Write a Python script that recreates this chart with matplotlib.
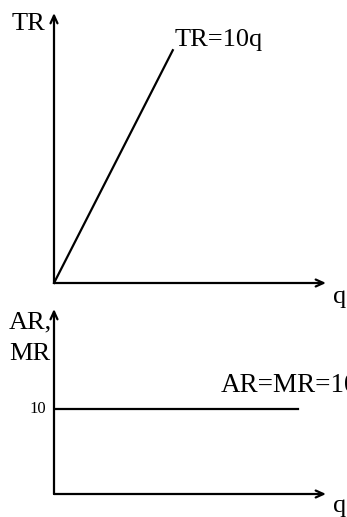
import matplotlib
matplotlib.use("Agg")
import matplotlib.pyplot as plt
import numpy as np

# data
q_tr = [0, 12]
tr_price = 10
ar_level = 10
q_ar = [0, 24.6]
tick_vals = [10]
tick_labels = ["10"]

W, H = 347, 517
fig = plt.figure(figsize=(W/100, H/100), dpi=100)
plt.rcParams['font.family'] = ['Liberation Serif', 'DejaVu Serif']

def px_axes(left, right, top, bottom):
    return fig.add_axes([left/W, 1-bottom/H, (right-left)/W, (bottom-top)/H])

def draw_axes(ax, xend, yend):
    for s in ax.spines.values():
        s.set_visible(False)
    ax.set_xticks([]); ax.set_yticks([])
    ax.patch.set_alpha(0)
    arrow = dict(arrowstyle='->,head_length=0.55,head_width=0.25', color='black', lw=1.6,
                 shrinkA=0, shrinkB=0)
    ax.annotate('', xy=(xend, 0), xytext=(0, 0), xycoords='axes fraction', arrowprops=arrow, annotation_clip=False)
    ax.annotate('', xy=(0, yend), xytext=(0, 0), xycoords='axes fraction', arrowprops=arrow, annotation_clip=False)

# top panel
ax1 = px_axes(54, 330, 12, 283)
ax1.set_xlim(0, 276/9.9)
ax1.set_ylim(0, 271/1.94)
draw_axes(ax1, (326-54)/276, (283-13)/271)
q = np.array(q_tr)
ax1.plot(q, tr_price*q, color='black', lw=1.6, clip_on=False)
fig.text(12/W, 1-30/H, "TR", fontsize=19)
fig.text(175/W, 1-46/H, "TR=10q", fontsize=19)
fig.text(333/W, 1-303/H, "q", fontsize=19)

# bottom panel
ax2 = px_axes(54, 330, 312, 494)
ax2.set_xlim(0, 276/9.9)
ax2.set_ylim(0, 182/8.5)
draw_axes(ax2, (326-54)/276, (494-309)/182)
ax2.plot(q_ar, [ar_level]*len(q_ar), color='black', lw=1.6)
for v, lab in zip(tick_vals, tick_labels):
    ax2.text(-0.03, v, lab, transform=ax2.get_yaxis_transform(), ha='right', va='center', fontsize=12)
fig.text(9/W, 1-328/H, "AR,", fontsize=19)
fig.text(9/W, 1-360/H, "MR", fontsize=19)
fig.text(221/W, 1-392/H, "AR=MR=10", fontsize=19.5)
fig.text(333/W, 1-512/H, "q", fontsize=19)

fig.savefig("out.png", dpi=100)
